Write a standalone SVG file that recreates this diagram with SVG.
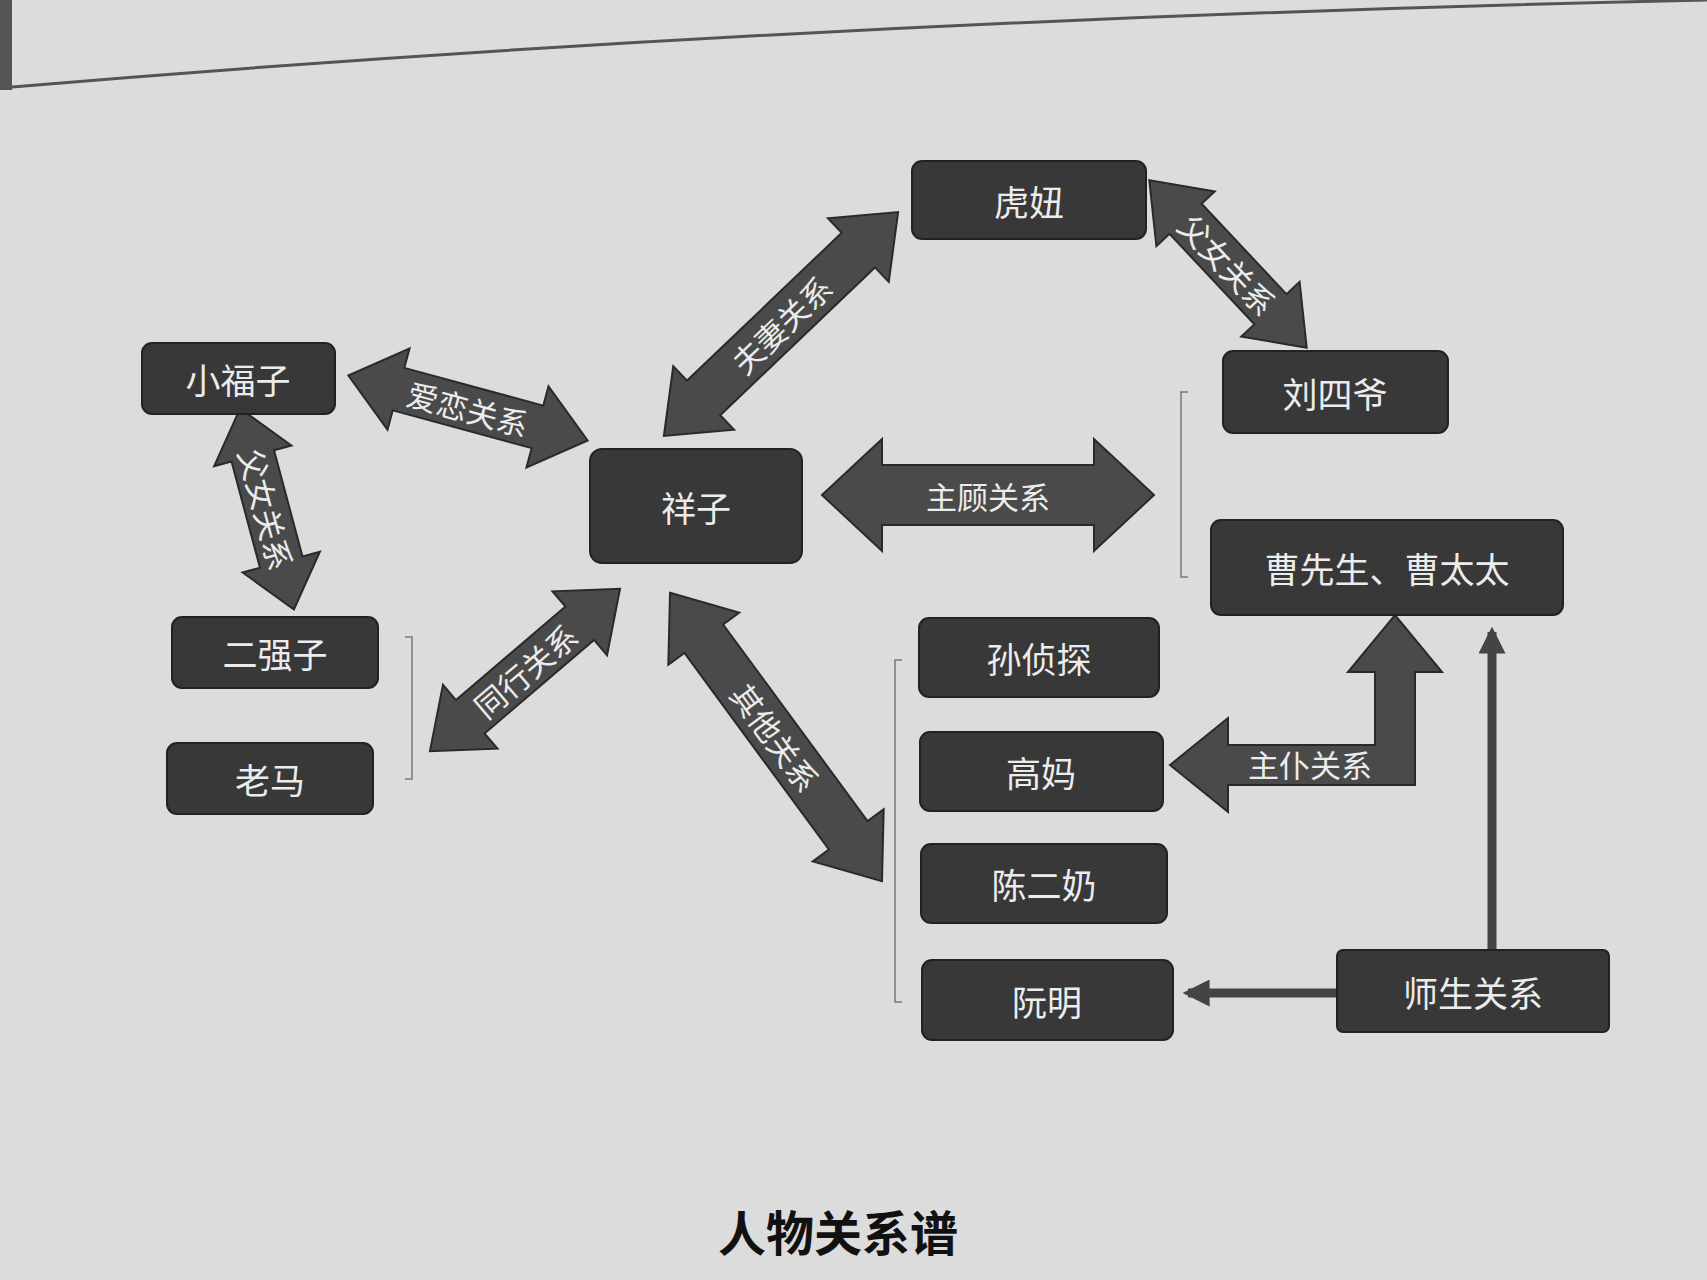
<svg xmlns="http://www.w3.org/2000/svg" width="1707" height="1280" viewBox="0 0 1707 1280">
<defs>
<style>
.n rect{fill:#383838;stroke:#222;stroke-width:2}
.n text,.lb{font-family:"Noto Sans CJK SC","Noto Sans",sans-serif;fill:#ececec;font-size:35px;text-anchor:middle;dominant-baseline:central}
.lb{font-size:31px}
.ar{fill:#4a4a4a;stroke:#2a2a2a;stroke-width:2}
.br{fill:none;stroke:#777;stroke-width:1.5}
.th{stroke:#444;stroke-width:9;fill:none}
</style>
<marker id="h" viewBox="0 0 10 10" refX="8" refY="5" markerWidth="3" markerHeight="3" orient="auto"><path d="M0,0L10,5L0,10Z" fill="#444"/></marker>
</defs>
<rect width="1707" height="1280" fill="#dcdcdc"/>
<path d="M0,88 Q800,20 1707,0" stroke="#555" stroke-width="3" fill="none"/>
<rect x="0" y="0" width="12" height="90" fill="#555"/>
<g id="connectors">
<g transform="translate(781,324) rotate(-43.7)"><path class="ar" d="M-162,0L-107,-44L-107,-24L107,-24L107,-44L162,0L107,44L107,24L-107,24L-107,44Z"/><text class="lb" x="0" y="0">夫妻关系</text></g>
<g transform="translate(1228,264) rotate(46.8)"><path class="ar" d="M-115,0L-62,-40L-62,-22L62,-22L62,-40L115,0L62,40L62,22L-62,22L-62,40Z"/><text class="lb" x="0" y="0">父女关系</text></g>
<g transform="translate(468,408) rotate(15.2)"><path class="ar" d="M-124,0L-72,-42L-72,-22L72,-22L72,-42L124,0L72,42L72,22L-72,22L-72,42Z"/><text class="lb" x="0" y="0">爱恋关系</text></g>
<g transform="translate(267,509) rotate(75)"><path class="ar" d="M-104,0L-55,-40L-55,-22L55,-22L55,-40L104,0L55,40L55,22L-55,22L-55,40Z"/><text class="lb" x="0" y="0">父女关系</text></g>
<g transform="translate(988,495)"><path class="ar" d="M-166,0L-106,-56L-106,-30L106,-30L106,-56L166,0L106,56L106,30L-106,30L-106,56Z"/><text class="lb" x="0" y="0">主顾关系</text></g>
<g transform="translate(525,670) rotate(-40.5)"><path class="ar" d="M-125,0L-72,-42L-72,-22L72,-22L72,-42L125,0L72,42L72,22L-72,22L-72,42Z"/><text class="lb" x="0" y="0">同行关系</text></g>
<g transform="translate(776,737) rotate(53.7)"><path class="ar" d="M-179,0L-122,-44L-122,-24L122,-24L122,-44L179,0L122,44L122,24L-122,24L-122,44Z"/><text class="lb" x="0" y="0">其他关系</text></g>
<path class="ar" d="M1170,765L1228,718L1228,745L1375,745L1375,672L1348,672L1395,615L1442,672L1415,672L1415,785L1228,785L1228,812Z"/>
<text class="lb" x="1310" y="763">主仆关系</text>
<line class="th" x1="1492" y1="952" x2="1492" y2="632" marker-end="url(#h)"/>
<line class="th" x1="1337" y1="993" x2="1188" y2="993" marker-end="url(#h)"/>
<path class="br" d="M902,660L895,660L895,1002L902,1002"/>
<path class="br" d="M1188,392L1181,392L1181,577L1188,577"/>
<path class="br" d="M405,637L412,637L412,779L405,779"/>
</g>
<g id="n1" class="n"><rect x="912" y="161" width="234" height="78" rx="10"/><text x="1029" y="200">虎妞</text></g>
<g id="n2" class="n"><rect x="1223" y="351" width="225" height="82" rx="10"/><text x="1335" y="392">刘四爷</text></g>
<g id="n3" class="n"><rect x="142" y="343" width="193" height="71" rx="10"/><text x="238" y="378">小福子</text></g>
<g id="n4" class="n"><rect x="590" y="449" width="212" height="114" rx="12"/><text x="696" y="506">祥子</text></g>
<g id="n5" class="n"><rect x="1211" y="520" width="352" height="95" rx="10"/><text x="1387" y="567">曹先生、曹太太</text></g>
<g id="n6" class="n"><rect x="172" y="617" width="206" height="71" rx="10"/><text x="275" y="652">二强子</text></g>
<g id="n7" class="n"><rect x="167" y="743" width="206" height="71" rx="10"/><text x="270" y="778">老马</text></g>
<g id="n8" class="n"><rect x="919" y="618" width="240" height="79" rx="10"/><text x="1039" y="657">孙侦探</text></g>
<g id="n9" class="n"><rect x="920" y="732" width="243" height="79" rx="10"/><text x="1041" y="771">高妈</text></g>
<g id="n10" class="n"><rect x="921" y="844" width="246" height="79" rx="10"/><text x="1044" y="883">陈二奶</text></g>
<g id="n11" class="n"><rect x="922" y="960" width="251" height="80" rx="10"/><text x="1047" y="1000">阮明</text></g>
<g id="n12" class="n"><rect x="1337" y="950" width="272" height="82" rx="6"/><text x="1473" y="991">师生关系</text></g>
<text x="838" y="1230" font-family="Noto Sans CJK SC,sans-serif" font-weight="bold" font-size="48" fill="#111" text-anchor="middle" dominant-baseline="central">人物关系谱</text>
</svg>
